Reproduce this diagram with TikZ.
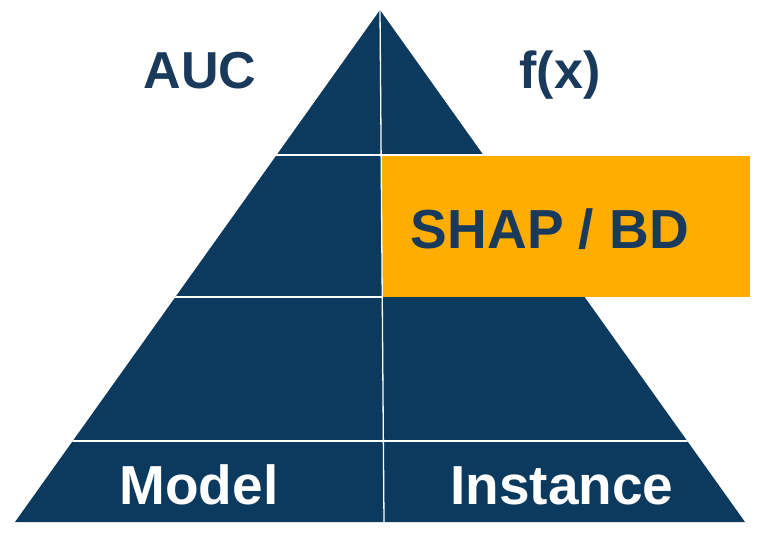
\documentclass[tikz,border=0pt]{standalone}
\usepackage{fontspec}
\setmainfont{Liberation Sans}
\definecolor{navy}{HTML}{0B3A5E}
\definecolor{navytext}{HTML}{1A3A5C}
\definecolor{amber}{HTML}{FFAD00}
\tikzset{
  label/.style={font=\bfseries\fontsize{52}{52}\selectfont, anchor=base, inner sep=0pt},
  divider/.style={white, line width=1.3pt}
}
\begin{document}
\begin{tikzpicture}[x=1pt, y=-1pt]
  \useasboundingbox (0,0) rectangle (768,538);
  % pyramid
  \coordinate (apex) at (380,10);
  \coordinate (bl) at (15,522);
  \coordinate (br) at (745,522);
  \fill[navy] (apex) -- (br) -- (bl) -- cycle; % triangle
  \fill[amber] (382,156) rectangle (750,297); % highlighted box
  \begin{scope}
    \clip (apex) -- (br) -- (bl) -- cycle;
    \draw[divider] (0,155) -- (382,155) -- (768,155); % top level
    \draw[divider] (0,297) -- (382,297); % second level
    \draw[divider] (0,441) -- (768,441); % bottom level
  \end{scope}
  \draw[divider] (apex) -- (384,522); % split
  \node[label, navytext] (auc) at (200,88) {AUC};
  \node[label, navytext] (fx) at (560,88) {f(x)};
  \node[label, navytext, font=\bfseries\fontsize{55}{55}\selectfont] (shap) at (550,248) {SHAP / BD};
  \node[label, white, font=\bfseries\fontsize{55}{55}\selectfont] (model) at (199,504) {Model};
  \node[label, white, font=\bfseries\fontsize{55}{55}\selectfont] (inst) at (562,504) {Instance};
\end{tikzpicture}
\end{document}
